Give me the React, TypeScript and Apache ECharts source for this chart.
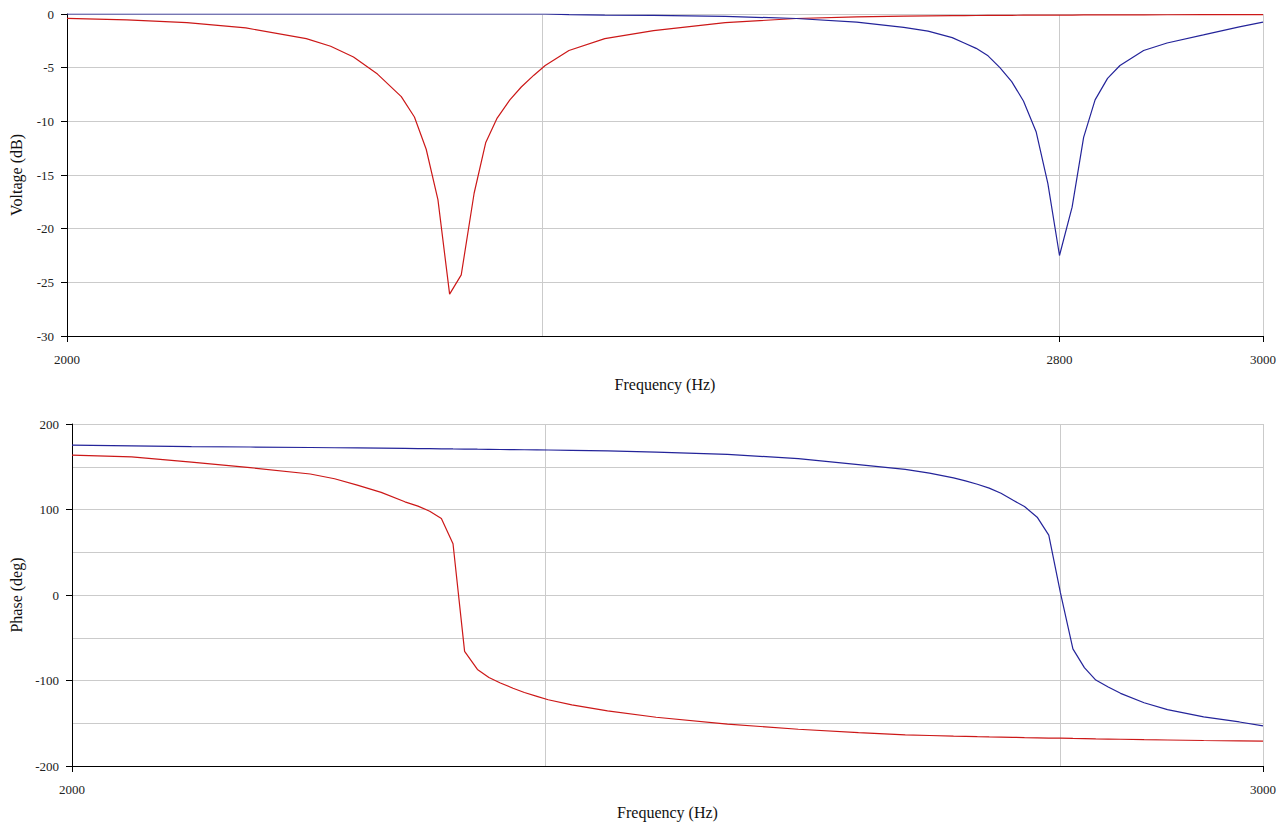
import React, { useEffect, useRef } from "react";
import * as echarts from "echarts";

// Frequencies (Hz), log-spaced samples
const FREQ = [2000, 2041, 2083, 2125, 2169, 2187, 2204, 2222, 2240, 2250, 2259, 2268, 2277, 2286, 2296, 2305, 2314, 2324, 2333, 2343, 2352, 2371, 2400, 2440, 2500, 2561, 2614, 2656, 2678, 2700, 2711, 2722, 2733, 2744, 2755, 2766, 2778, 2789, 2800, 2812, 2823, 2834, 2846, 2858, 2881, 2904, 2940, 2976, 3000];

// Voltage (dB)
const VOLT_RED = [-0.4, -0.55, -0.8, -1.3, -2.3, -3.0, -4.0, -5.6, -7.7, -9.6, -12.6, -17.3, -26.1, -24.3, -16.7, -12.0, -9.7, -8.0, -6.8, -5.7, -4.8, -3.4, -2.3, -1.55, -0.8, -0.42, -0.27, -0.2, -0.18, -0.16, -0.15, -0.14, -0.13, -0.13, -0.12, -0.11, -0.11, -0.1, -0.1, -0.1, -0.09, -0.09, -0.09, -0.08, -0.08, -0.07, -0.06, -0.05, -0.05];
const VOLT_BLUE = [0, 0, 0, 0, 0, 0, 0, 0, 0, 0, 0, 0, 0, 0, 0, 0, 0, 0, 0, 0, 0, -0.05, -0.1, -0.13, -0.22, -0.42, -0.75, -1.25, -1.6, -2.2, -2.7, -3.2, -3.9, -5.0, -6.3, -8.1, -11.0, -15.8, -22.5, -18.0, -11.5, -8.0, -6.0, -4.8, -3.4, -2.7, -1.95, -1.2, -0.75];

// Phase (deg)
const PHASE_RED = [163.5, 161.5, 155.5, 149, 141.5, 136, 128.5, 120, 109, 104, 98, 89.5, 60, -66, -87, -96.5, -103, -109, -114, -118.5, -122.5, -128.5, -135.5, -143, -151, -157, -161, -163.5, -164.3, -165, -165.3, -165.7, -166, -166.2, -166.5, -166.8, -167, -167.3, -167.5, -167.8, -168, -168.3, -168.5, -168.7, -169.2, -169.6, -170.2, -170.6, -170.9];
const PHASE_BLUE = [175.2, 174.5, 173.6, 173.1, 172.5, 172.2, 172, 171.7, 171.4, 171.2, 171.1, 171, 170.8, 170.7, 170.5, 170.4, 170.2, 170.1, 169.9, 169.8, 169.6, 169.2, 168.5, 167.2, 164.5, 159.5, 152.5, 147, 142.5, 137, 133.5, 129.5, 125, 119, 111, 103.5, 91, 70, 3, -63, -85, -99.5, -107.5, -115, -126, -134, -142.5, -148.5, -153];

// Axis ticks / labels
const TOP_X_LABELS = [2000, 2800, 3000];
const BOTTOM_X_LABELS = [2000, 3000];
const X_GRID_LINES = [2350, 2800, 3000];

const FONT = "'Liberation Serif', 'DejaVu Serif', serif";
const GRID_COLOR = "#cbcbcb";
const RED = "#cc1818";
const BLUE = "#24249a";

function pairs(xs: number[], ys: number[]) {
  return xs.map((x, i) => [x, ys[i]]);
}

function vGrid() {
  return {
    silent: true,
    z: 1,
    symbol: ["none", "none"],
    label: { show: false },
    emphasis: { disabled: true },
    lineStyle: { color: GRID_COLOR, type: "solid", width: 1 },
    data: X_GRID_LINES.map((f) => ({ xAxis: f })),
  };
}

function xAxisCfg(gridIndex: number, labels: number[], nameGap: number) {
  return {
    gridIndex,
    type: "log",
    logBase: 10,
    min: 2000,
    max: 3000,
    name: "Frequency (Hz)",
    nameLocation: "middle",
    nameGap,
    nameTextStyle: { fontSize: 16, color: "#111", fontFamily: FONT },
    axisLine: { show: true, onZero: false, lineStyle: { color: "#000", width: 1 } },
    axisTick: { show: true, customValues: labels, length: 6, lineStyle: { color: "#000" } },
    axisLabel: {
      customValues: labels,
      margin: 17,
      fontSize: 13,
      color: "#222",
      fontFamily: FONT,
      formatter: (v: number) => String(Math.round(v)),
    },
    splitLine: { show: false },
    minorTick: { show: false },
    minorSplitLine: { show: false },
  };
}

export default function App() {
  const ref = useRef<HTMLDivElement>(null);
  useEffect(() => {
    if (!ref.current) return;
    const chart = echarts.init(ref.current, undefined, { renderer: "svg" });
    chart.setOption({
      animation: false,
      backgroundColor: "#ffffff",
      textStyle: { fontFamily: FONT },
      grid: [
        { left: 66, right: 25, top: 14, height: 322 },
        { left: 72, right: 25, top: 424, height: 342 },
      ],
      xAxis: [xAxisCfg(0, TOP_X_LABELS, 40), xAxisCfg(1, BOTTOM_X_LABELS, 38)],
      yAxis: [
        {
          gridIndex: 0,
          type: "value",
          min: -30,
          max: 0,
          interval: 5,
          name: "Voltage (dB)",
          nameLocation: "middle",
          nameGap: 43,
          nameTextStyle: { fontSize: 16, color: "#111", fontFamily: FONT },
          axisLine: { show: true, lineStyle: { color: "#000", width: 1 } },
          axisTick: { show: true, length: 6, lineStyle: { color: "#000" } },
          axisLabel: { margin: 13, fontSize: 13, color: "#222", fontFamily: FONT },
          splitLine: { show: true, lineStyle: { color: GRID_COLOR, width: 1 } },
        },
        {
          gridIndex: 1,
          type: "value",
          min: -200,
          max: 200,
          interval: 100,
          name: "Phase (deg)",
          nameLocation: "middle",
          nameGap: 47,
          nameTextStyle: { fontSize: 16, color: "#111", fontFamily: FONT },
          axisLine: { show: true, lineStyle: { color: "#000", width: 1 } },
          axisTick: { show: true, length: 6, lineStyle: { color: "#000" } },
          axisLabel: { margin: 13, fontSize: 13, color: "#222", fontFamily: FONT },
          splitLine: { show: true, lineStyle: { color: GRID_COLOR, width: 1 } },
          minorTick: { show: false, splitNumber: 2 },
          minorSplitLine: { show: true, lineStyle: { color: GRID_COLOR, width: 1 } },
        },
      ],
      series: [
        {
          name: "Voltage A",
          type: "line",
          xAxisIndex: 0,
          yAxisIndex: 0,
          showSymbol: false,
          symbol: "none",
          lineStyle: { color: RED, width: 1.2 },
          itemStyle: { color: RED },
          data: pairs(FREQ, VOLT_RED),
          markLine: vGrid(),
        },
        {
          name: "Voltage B",
          type: "line",
          xAxisIndex: 0,
          yAxisIndex: 0,
          showSymbol: false,
          symbol: "none",
          lineStyle: { color: BLUE, width: 1.2 },
          itemStyle: { color: BLUE },
          data: pairs(FREQ, VOLT_BLUE),
        },
        {
          name: "Phase A",
          type: "line",
          xAxisIndex: 1,
          yAxisIndex: 1,
          showSymbol: false,
          symbol: "none",
          lineStyle: { color: RED, width: 1.2 },
          itemStyle: { color: RED },
          data: pairs(FREQ, PHASE_RED),
          markLine: vGrid(),
        },
        {
          name: "Phase B",
          type: "line",
          xAxisIndex: 1,
          yAxisIndex: 1,
          showSymbol: false,
          symbol: "none",
          lineStyle: { color: BLUE, width: 1.2 },
          itemStyle: { color: BLUE },
          data: pairs(FREQ, PHASE_BLUE),
        },
      ],
    });
    return () => chart.dispose();
  }, []);
  return (
    <div
      ref={ref}
      style={{ position: "absolute", left: 0, top: 0, width: 1288, height: 829, background: "#fff" }}
    />
  );
}
